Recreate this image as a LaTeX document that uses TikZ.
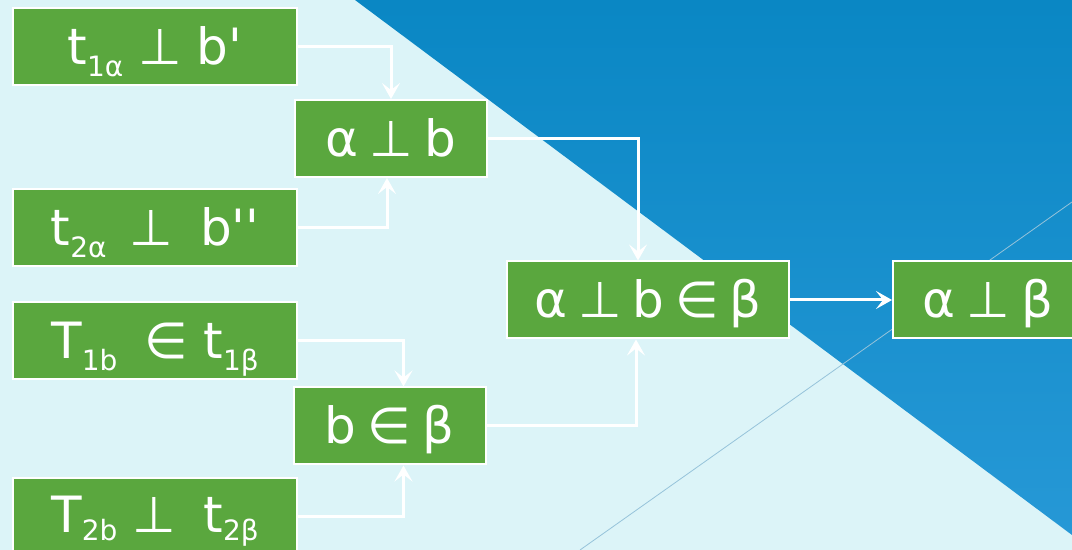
\documentclass[tikz,border=0pt]{standalone}
\usepackage{fontspec}
\setmainfont{DejaVu Sans}
\usepackage{tikz}
\usetikzlibrary{positioning,arrows.meta}
\definecolor{slidebg}{RGB}{220,244,248}
\definecolor{slideblue}{RGB}{10,135,196}
\definecolor{slidebluelight}{RGB}{38,152,214}
\definecolor{boxgreen}{RGB}{90,167,62}
\definecolor{faintline}{RGB}{150,195,218}

\newcommand{\lowsub}[2][-6pt]{\raisebox{#1}{\fontsize{14}{16}\selectfont #2}}
\newcommand{\symgap}[1][0.22em]{\hspace{#1}}

\begin{document}
\begin{tikzpicture}[
    x=0.5pt, y=-0.5pt,
    box/.style={rectangle, draw=white, line width=1pt, fill=boxgreen, text=white,
                minimum height=38.5pt, text height=20pt, text depth=2pt, inner sep=0pt,
                font=\fontsize{25}{28}\selectfont},
    premise/.style={box, minimum width=142pt},
    middle/.style={box, minimum width=96pt},
    arrow/.style={-{Stealth[length=8pt,width=9pt,inset=3.5pt]}, line width=1.5pt, draw=white}
]
    \useasboundingbox (0,0) rectangle (1072,550);
    \clip (0,0) rectangle (1072,550);
    % background
    \fill[slidebg] (0,0) rectangle (1072,550);
    \shade[top color=slideblue, bottom color=slidebluelight] (355,0) -- (1072,0) -- (1072,535) -- cycle;
    \draw[faintline, line width=0.4pt] (1072,202) -- (580,550);

    \node[premise] (t1a) at (155,47)  {t\lowsub{1α}\symgap[0.3em]⊥\symgap[0.3em]b\textquotesingle};
    \node[premise] (t2a) at (155,228) {t\lowsub{2α}\symgap[0.45em]⊥\symgap[0.55em]b\textquotesingle\textquotesingle};
    \node[premise] (T1b) at (155,341) {T\lowsub{1b}\symgap[0.55em]∈\symgap[0.3em]t\lowsub{1β}};
    \node[premise, text height=19pt, text depth=3pt] (T2b) at (155,517)
        {T\lowsub[-4pt]{2b}\symgap[0.3em]⊥\symgap[0.55em]t\lowsub[-4pt]{2β}};

    \node[middle] (ab) at (391,138.5) {α\symgap⊥\symgap b};
    \node[middle] (bb) at (389.5,426) {b\symgap∈\symgap β};

    \node[box, minimum width=141pt] (abb) at (648,300) {α\symgap⊥\symgap b\symgap∈\symgap β};
    \node[box, minimum width=95pt, right=51pt of abb] (ab2) {α\symgap⊥\symgap β};

    \draw[arrow] (t1a.east) -| (ab.north);
    \draw[arrow] (t2a.east) -| ([xshift=-2pt]ab.south);
    \draw[arrow] (T1b.east) -| ([xshift=7pt]bb.north);
    \draw[arrow] (T2b.east) -| ([xshift=7pt]bb.south);
    \draw[arrow] (ab.east) -| ([xshift=-5pt]abb.north);
    \draw[arrow] (bb.east) -| ([xshift=-6pt]abb.south);
    \draw[arrow] (abb) -- (ab2);
\end{tikzpicture}
\end{document}
